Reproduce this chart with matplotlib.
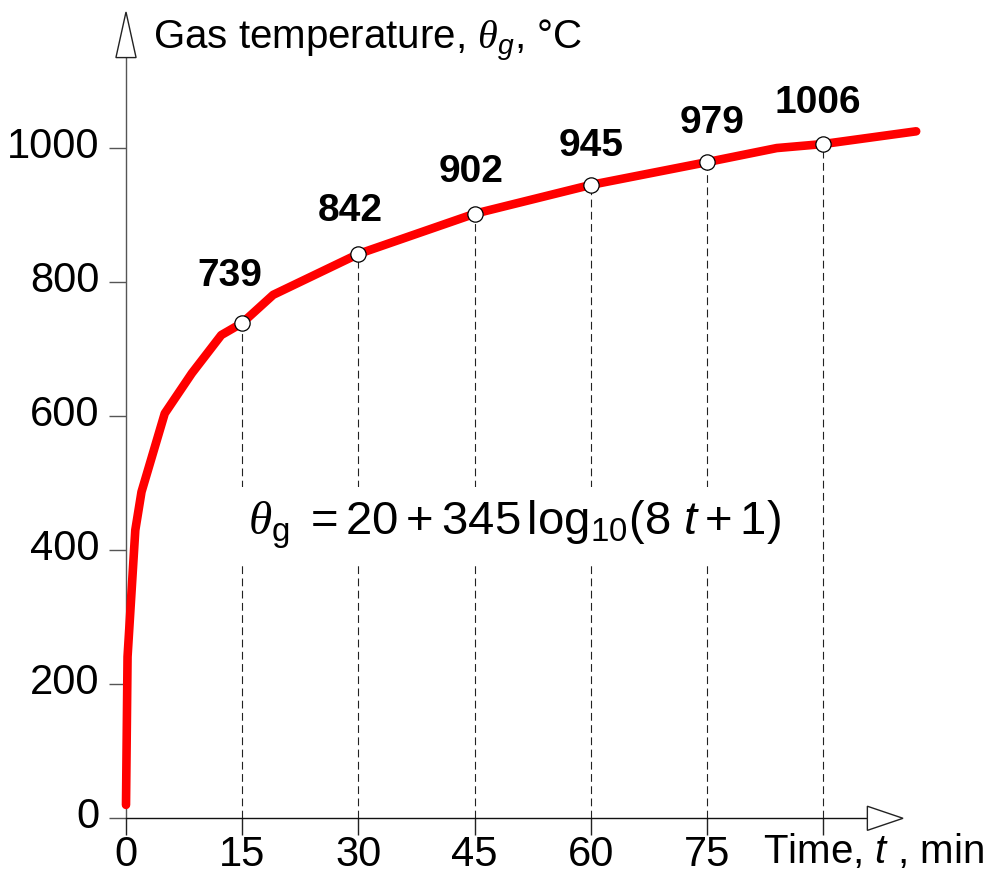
import matplotlib
matplotlib.use("Agg")
import matplotlib.pyplot as plt
import matplotlib.transforms as mtransforms
from matplotlib import font_manager
from matplotlib.patches import Polygon

# ---------------- data ----------------
t_curve = [0, 0.2, 1.2, 2.0, 5.0, 8.5, 12.3, 15, 19, 30, 45, 60, 75, 84, 90, 102]
theta_curve = [20, 241, 430, 487, 604, 664, 721, 739, 781, 842, 902, 945, 979, 1000, 1006, 1025]

t_marks = [15, 30, 45, 60, 75, 90]
theta_marks = [739, 842, 902, 945, 979, 1006]
mark_labels = ["739", "842", "902", "945", "979", "1006"]

x_ticks = [0, 15, 30, 45, 60, 75, 90]
x_ticklabels = ["0", "15", "30", "45", "60", "75", ""]
y_ticks = [0, 200, 400, 600, 800, 1000]
y_ticklabels = ["0", "200", "400", "600", "800", "1000"]

# ---------------- fonts ----------------
names = {f.name for f in font_manager.fontManager.ttflist}
narrow_ok = "Liberation Sans Narrow" in names
base = "Liberation Sans Narrow" if narrow_ok else "Liberation Sans"
plt.rcParams["font.family"] = [base, "DejaVu Sans"]
plt.rcParams["mathtext.fontset"] = "custom"
plt.rcParams["mathtext.rm"] = "Liberation Sans"
plt.rcParams["mathtext.it"] = "Liberation Sans:italic"
plt.rcParams["mathtext.bf"] = "Liberation Sans:bold"
plt.rcParams["mathtext.cal"] = "Liberation Serif:italic"

fs_tick = 33 if narrow_ok else 30
fs_lab = 31 if narrow_ok else 28
fs_title = 33 if narrow_ok else 29

axis_col = "#222222"

fig = plt.figure(figsize=(9.96, 8.75), dpi=100)
ax = fig.add_axes([126 / 996, 56.7 / 875, 777 / 996, 806.3 / 875])
ax.set_xlim(0, 100.3)
ax.set_ylim(0, 1203)

for s in ["top", "right"]:
    ax.spines[s].set_visible(False)
ax.spines["left"].set_bounds(0, 1135)
ax.spines["bottom"].set_bounds(0, 95.7)
ax.spines["left"].set_color("#555555")
ax.spines["bottom"].set_color("#111111")
for s in ["left", "bottom"]:
    ax.spines[s].set_linewidth(1.0)

# arrow heads
ax.add_patch(Polygon([(-1.3, 1135), (1.3, 1135), (0, 1203)], closed=True,
                     facecolor="white", edgecolor=axis_col, lw=1.0, clip_on=False, zorder=3))
ax.add_patch(Polygon([(95.7, -18), (95.7, 18), (100.3, 0)], closed=True,
                     facecolor="white", edgecolor=axis_col, lw=1.0, clip_on=False, zorder=3))

ax.set_xticks(x_ticks)
ax.set_xticklabels(x_ticklabels)
ax.set_yticks(y_ticks)
ax.set_yticklabels(y_ticklabels)
ax.tick_params(axis="x", direction="out", length=12, width=1.0, color=axis_col,
               pad=0, labelsize=fs_tick)
ax.tick_params(axis="y", direction="out", length=12, width=1.0, color="#555555",
               pad=7, labelsize=fs_tick)
shift_up = mtransforms.ScaledTranslation(0, 4 / 72, fig.dpi_scale_trans)
for lab in ax.get_yticklabels():
    lab.set_transform(lab.get_transform() + shift_up)

# dashed guide lines
for t, v in zip(t_marks, theta_marks):
    ax.plot([t, t], [0, v], color="#222222", lw=0.8, dashes=(7, 4), zorder=1)

# curve
ax.plot(t_curve, theta_curve, color="#ff0000", lw=6.2, solid_capstyle="round",
        solid_joinstyle="round", clip_on=False, zorder=4)

# markers
ax.plot(t_marks, theta_marks, ls="none", marker="o", ms=11, mfc="white",
        mec="black", mew=0.9, zorder=5)

# value labels (offsets in points)
label_dx = [-8.6, -5.8, -2.9, 0, 3.6, -3.6]
label_dy = [33.8, 31.0, 29.9, 28.0, 28.0, 29.5]
for t, v, lab, dx, dy in zip(t_marks, theta_marks, mark_labels, label_dx, label_dy):
    ax.annotate(lab, (t, v), xytext=(dx, dy), textcoords="offset points",
                ha="center", va="center", fontsize=fs_lab, fontweight="bold", zorder=6)

# formula
ax.text(50.2, 438, r"$\mathcal{\theta}_{\mathrm{g}}\;=20+345\,\mathrm{log}_{10}(8\ t+1)$",
        ha="center", va="center", fontsize=34, zorder=6,
        bbox=dict(facecolor="white", edgecolor="none", pad=8))

# axis titles
fig.text(153 / 996, 1 - 40 / 875, r"Gas temperature, $\mathcal{\theta}_{g}$, °C",
         ha="left", va="center", fontsize=fs_title)
fig.text(763 / 996, 1 - 851 / 875, r"Time, $t$ , min", ha="left", va="center",
         fontsize=fs_title)

fig.savefig("out.png", dpi=100)
